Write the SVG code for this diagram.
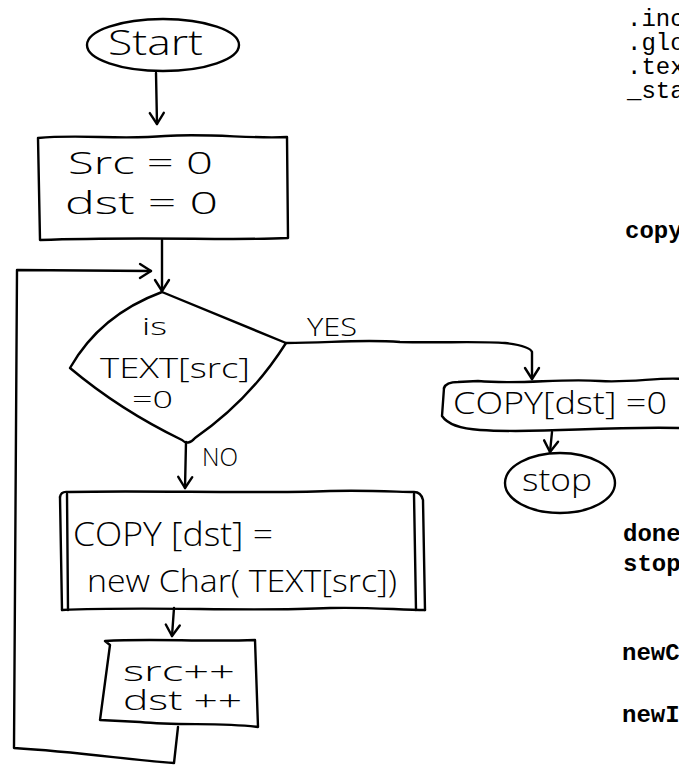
<svg xmlns="http://www.w3.org/2000/svg" width="679" height="766" viewBox="0 0 679 766">
<style>
.ink{fill:none;stroke:#000;stroke-width:2.4;stroke-linecap:round;stroke-linejoin:round}
.hand{font-family:"Open Sans","Liberation Sans","DejaVu Sans",sans-serif;font-weight:300;fill:#000}
.mono{font-family:"Liberation Mono","Courier New",monospace;font-size:24px;fill:#000}
.bold{font-weight:bold}
</style>
<defs>
<marker id="arr" markerUnits="userSpaceOnUse" markerWidth="24" markerHeight="24" refX="0" refY="0" viewBox="-12 -12 24 24" orient="auto" overflow="visible">
<path d="M-11,-7 L0,0 L-11,7" fill="none" stroke="#000" stroke-width="2.4" stroke-linecap="round" stroke-linejoin="round"/>
</marker>
</defs>
<rect width="679" height="766" fill="#fff"/>

<g id="connectors">
<path class="ink" d="M156,73 L157,124" marker-end="url(#arr)"/>
<path class="ink" d="M162,240 L162,291" marker-end="url(#arr)"/>
<path class="ink" d="M178,727 L174,763 C130,760 80,752 14,748 L17,270 L151,271" marker-end="url(#arr)"/>
<path class="ink" d="M286,343 C330,343 360,339 400,342 C440,343 480,341 505,343 Q530,346 532,352 L532,379" marker-end="url(#arr)"/>
<path class="ink" d="M186,442 L185,488" marker-end="url(#arr)"/>
<path class="ink" d="M552,432 L550,452" marker-end="url(#arr)"/>
<path class="ink" d="M174,608 L172,636" marker-end="url(#arr)"/>
</g>

<g id="start">
<ellipse class="ink" cx="163" cy="45" rx="76" ry="26"/>
<text class="hand" x="108" y="55" font-size="34" textLength="95" lengthAdjust="spacingAndGlyphs">Start</text>
</g>

<g id="init">
<path class="ink" d="M38,138 C80,134 120,140 165,136 C210,133 250,139 287,137 L288,238 C230,241 150,236 40,240 Z"/>
<text class="hand" x="68" y="174" font-size="31" textLength="145" lengthAdjust="spacingAndGlyphs">Src = 0</text>
<text class="hand" x="65" y="214" font-size="31" textLength="153" lengthAdjust="spacingAndGlyphs">dst = 0</text>
</g>

<g id="decision">
<path class="ink" d="M162,292 L286,343 Q250,400 195,438 Q188,446 182,440 Q120,410 70,368 Q100,315 162,292 Z"/>
<text class="hand" x="142" y="335" font-size="23" textLength="25" lengthAdjust="spacingAndGlyphs">is</text>
<text class="hand" x="100" y="378" font-size="28" textLength="150" lengthAdjust="spacingAndGlyphs">TEXT[src]</text>
<text class="hand" x="132" y="408" font-size="24" textLength="41" lengthAdjust="spacingAndGlyphs">=0</text>
<text class="hand" x="307" y="336" font-size="25" textLength="50" lengthAdjust="spacingAndGlyphs">YES</text>
<text class="hand" x="202" y="466" font-size="25" textLength="36" lengthAdjust="spacingAndGlyphs">NO</text>
</g>

<g id="terminate">
<path class="ink" d="M444,388 Q446,382 458,382 L478,381 C520,385 560,378 600,381 C630,383 660,377 682,379"/>
<path class="ink" d="M444,388 L442,416 Q450,428 480,430 C540,434 600,426 682,428"/>
<text class="hand" x="453" y="414" font-size="31" textLength="214" lengthAdjust="spacingAndGlyphs">COPY[dst] =0</text>
</g>

<g id="stop">
<ellipse class="ink" cx="560" cy="483" rx="55" ry="30"/>
<text class="hand" x="522" y="491" font-size="31" textLength="70" lengthAdjust="spacingAndGlyphs">stop</text>
</g>

<g id="copychar">
<path class="ink" d="M60,497 Q61,491 68,492 C150,490 250,494 330,491 C370,490 400,492 414,492 Q421,492 423,500 L425,610"/>
<path class="ink" d="M414,494 L416,610"/>
<path class="ink" d="M60,497 L62,610"/>
<path class="ink" d="M67,494 L68,610"/>
<path class="ink" d="M62,610 C150,606 250,612 330,608 C370,607 400,610 425,610"/>
<text class="hand" x="73" y="546" font-size="33" textLength="200" lengthAdjust="spacingAndGlyphs">COPY [dst] =</text>
<text class="hand" x="87" y="592" font-size="31" textLength="310" lengthAdjust="spacingAndGlyphs">new Char( TEXT[src])</text>
</g>

<g id="increment">
<path class="ink" d="M105,641 C150,638 200,642 255,640 L258,727 C220,722 180,726 140,722 L100,720 L110,645 Z"/>
<text class="hand" x="123" y="681" font-size="27" textLength="112" lengthAdjust="spacingAndGlyphs">src++</text>
<text class="hand" x="123" y="710" font-size="27" textLength="119" lengthAdjust="spacingAndGlyphs">dst ++</text>
</g>

<g id="listing">
<text class="mono" x="627" y="26">.inc</text>
<text class="mono" x="627" y="50">.glo</text>
<text class="mono" x="627" y="74">.tex</text>
<text class="mono" x="627" y="98">_sta</text>
<text class="mono bold" x="625" y="238">copy</text>
<text class="mono bold" x="623" y="541">done</text>
<text class="mono bold" x="623" y="571">stop</text>
<text class="mono bold" x="622" y="660">newC</text>
<text class="mono bold" x="622" y="722">newI</text>
</g>
</svg>
